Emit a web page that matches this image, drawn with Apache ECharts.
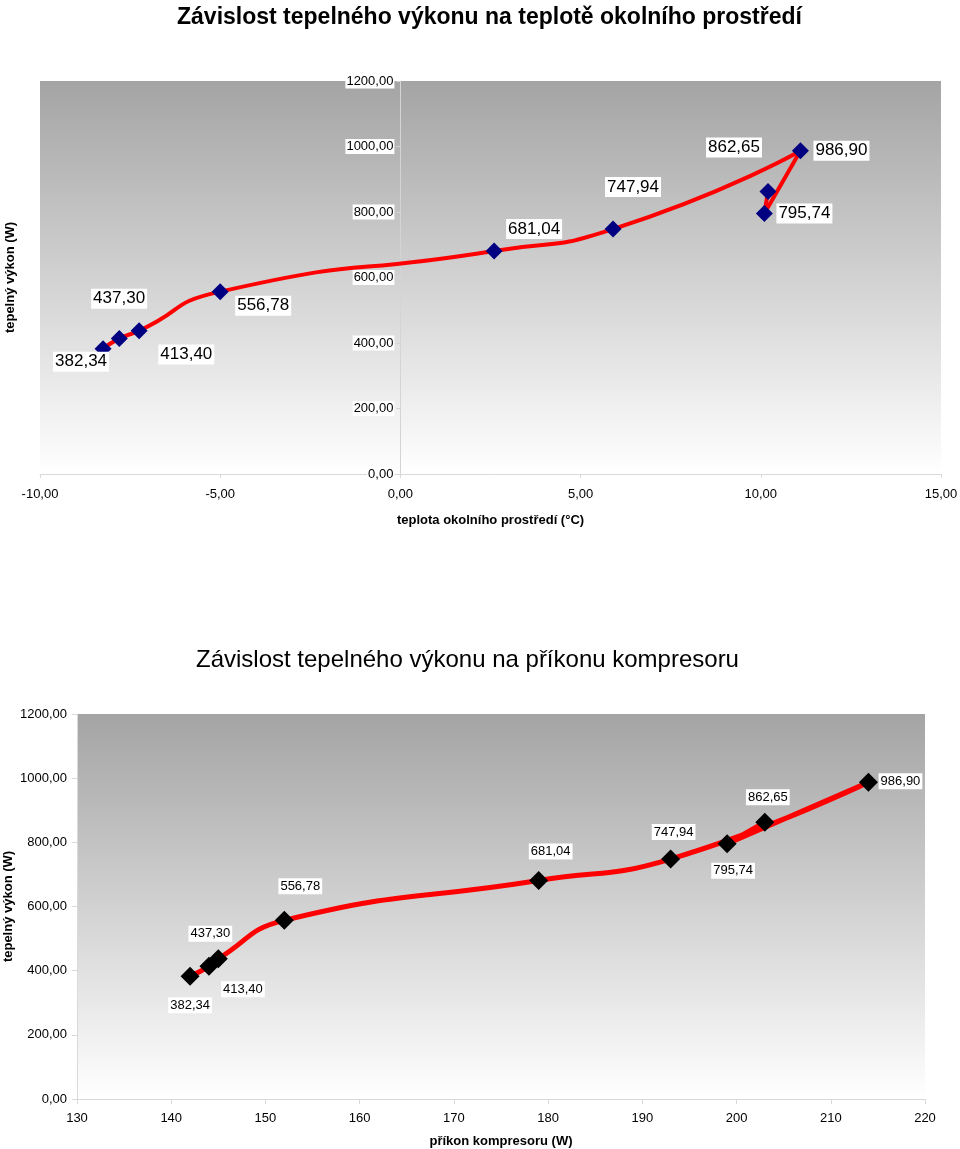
<!DOCTYPE html>
<html>
<head>
<meta charset="utf-8">
<script src="https://cdn.jsdelivr.net/npm/echarts@6/dist/echarts.min.js"></script>
<style>
html,body{margin:0;padding:0;background:#fff;}
#c{width:960px;height:1149px;}
</style>
</head>
<body>
<div id="c"></div>
<script>
// ---- data ----
const heatOutput = [382.34, 413.40, 437.30, 556.78, 681.04, 747.94, 986.90, 795.74, 862.65];
const ambientTemp = [-8.25, -7.8, -7.25, -5.0, 2.6, 5.9, 11.1, 10.1, 10.2];
const compressorInput = [142, 144, 145, 152, 179, 193, 214, 199, 203];
const tempTicks = [-10, -5, 0, 5, 10, 15];
const inputTicks = [130, 140, 150, 160, 170, 180, 190, 200, 210, 220];

const title1 = 'Závislost tepelného výkonu na teplotě okolního prostředí';
const title2 = 'Závislost tepelného výkonu na příkonu kompresoru';
const yName = 'tepelný výkon (W)';
const xName1 = 'teplota okolního prostředí (°C)';
const xName2 = 'příkon kompresoru (W)';

// label offsets (layout only)
const labelOffsetTop = [[-22,13],[67,16],[-20,-32],[43,14],[40,-22],[20,-42],[41,0],[40,0],[-34,-44]];
const labelOffsetBottom = [[0,29],[34,23],[-8,-25],[16,-34],[12,-29],[3,-27],[32,-1],[6,27],[3,-25]];

const fmt = v => v.toFixed(2).replace('.', ',');
const bgGrad = {type:'linear', x:0, y:0, x2:0, y2:1, colorStops:[{offset:0,color:'#a4a4a4'},{offset:1,color:'#ffffff'}]};
const FONT = 'Liberation Sans, Arial, sans-serif';

const chart = echarts.init(document.getElementById('c'), null, {renderer:'canvas'});

function pts(xs, offs) {
  return xs.map((x, i) => ({
    value: [x, heatOutput[i]],
    label: {offset: offs[i]}
  }));
}

const gridLeft0 = 40, gridW0 = 901;
const zeroOffset = -gridW0 * (0 - tempTicks[0]) / (tempTicks[tempTicks.length-1] - tempTicks[0]);

chart.setOption({
  animation: false,
  backgroundColor: '#fff',
  title: [
    {text: title1, left: 172, top: 1,
     textStyle: {fontFamily: FONT, fontWeight: 'bold', fontSize: 23, color: '#000'}},
    {text: title2, left: 191, top: 643,
     textStyle: {fontFamily: FONT, fontWeight: 'normal', fontSize: 24, color: '#000'}}
  ],
  grid: [
    {left: gridLeft0, width: gridW0, top: 81, height: 393, show: true, backgroundColor: bgGrad, borderWidth: 0, outerBoundsMode: 'none', containLabel: false},
    {left: 77, right: 35, top: 714, height: 385, show: true, backgroundColor: bgGrad, borderWidth: 0, outerBoundsMode: 'none', containLabel: false}
  ],
  xAxis: [
    {gridIndex: 0, type: 'value', min: tempTicks[0], max: tempTicks[tempTicks.length-1], interval: 5,
     name: xName1, nameLocation: 'middle', nameGap: 40, nameMoveOverlap: false,
     nameTextStyle: {fontFamily: FONT, fontWeight: 'bold', fontSize: 13, color: '#000'},
     axisLine: {show: true, onZero: false, lineStyle: {color: '#d9d9d9'}},
     axisTick: {show: true, length: 4, lineStyle: {color: '#d9d9d9'}},
     axisLabel: {fontFamily: FONT, fontSize: 13, color: '#000', margin: 14, formatter: fmt},
     splitLine: {show: false}},
    {gridIndex: 1, type: 'value', min: inputTicks[0], max: inputTicks[inputTicks.length-1], interval: 10,
     name: xName2, nameLocation: 'middle', nameGap: 36, nameMoveOverlap: false,
     nameTextStyle: {fontFamily: FONT, fontWeight: 'bold', fontSize: 13, color: '#000'},
     axisLine: {show: true, lineStyle: {color: '#d9d9d9'}},
     axisTick: {show: true, length: 5, lineStyle: {color: '#d9d9d9'}},
     axisLabel: {fontFamily: FONT, fontSize: 13, color: '#000', margin: 13},
     splitLine: {show: false}}
  ],
  yAxis: [
    {gridIndex: 0, type: 'value', min: 0, max: 1200, interval: 200, position: 'left', offset: zeroOffset,
     axisLine: {show: true, onZero: false, lineStyle: {color: '#d4d4d4'}},
     axisTick: {show: true, length: 4, lineStyle: {color: '#d4d4d4'}},
     axisLabel: {fontFamily: FONT, fontSize: 13, color: '#000', margin: 6, formatter: fmt,
                 backgroundColor: '#fff', padding: [1,1,1,1]},
     splitLine: {show: false}},
    {gridIndex: 1, type: 'value', min: 0, max: 1200, interval: 200,
     name: yName, nameLocation: 'middle', nameGap: 62, nameRotate: 90, nameMoveOverlap: false,
     nameTextStyle: {fontFamily: FONT, fontWeight: 'bold', fontSize: 13, color: '#000'},
     axisLine: {show: true, lineStyle: {color: '#d9d9d9'}},
     axisTick: {show: true, length: 5, lineStyle: {color: '#d9d9d9'}},
     axisLabel: {fontFamily: FONT, fontSize: 13, color: '#000', margin: 10, formatter: fmt},
     splitLine: {show: false}},
    {gridIndex: 0, type: 'value', min: 0, max: 1200, position: 'left', offset: 0,
     name: yName, nameLocation: 'middle', nameGap: 23, nameRotate: 90, nameMoveOverlap: false,
     nameTextStyle: {fontFamily: FONT, fontWeight: 'bold', fontSize: 13, color: '#000'},
     axisLine: {show: false}, axisTick: {show: false}, axisLabel: {show: false}, splitLine: {show: false}}
  ],
  series: [
    {type: 'line', xAxisIndex: 0, yAxisIndex: 0, smooth: 0.6,
     data: pts(ambientTemp, labelOffsetTop),
     lineStyle: {color: '#ff0000', width: 4},
     symbol: 'diamond', symbolSize: 17,
     itemStyle: {color: '#000080'},
     label: {show: true, position: 'inside', formatter: p => fmt(p.value[1]),
             fontFamily: FONT, fontSize: 17, color: '#000', backgroundColor: '#fff', padding: [2,2,1,2]},
     z: 3},
    {type: 'line', xAxisIndex: 1, yAxisIndex: 1, smooth: 0.5,
     data: pts(compressorInput, labelOffsetBottom),
     lineStyle: {color: '#ff0000', width: 5},
     symbol: 'diamond', symbolSize: 19,
     itemStyle: {color: '#000000'},
     label: {show: true, position: 'inside', formatter: p => fmt(p.value[1]),
             fontFamily: FONT, fontSize: 13, color: '#000', backgroundColor: '#fff', padding: [2,2,1,2]},
     z: 3}
  ]
});
</script>
</body>
</html>
